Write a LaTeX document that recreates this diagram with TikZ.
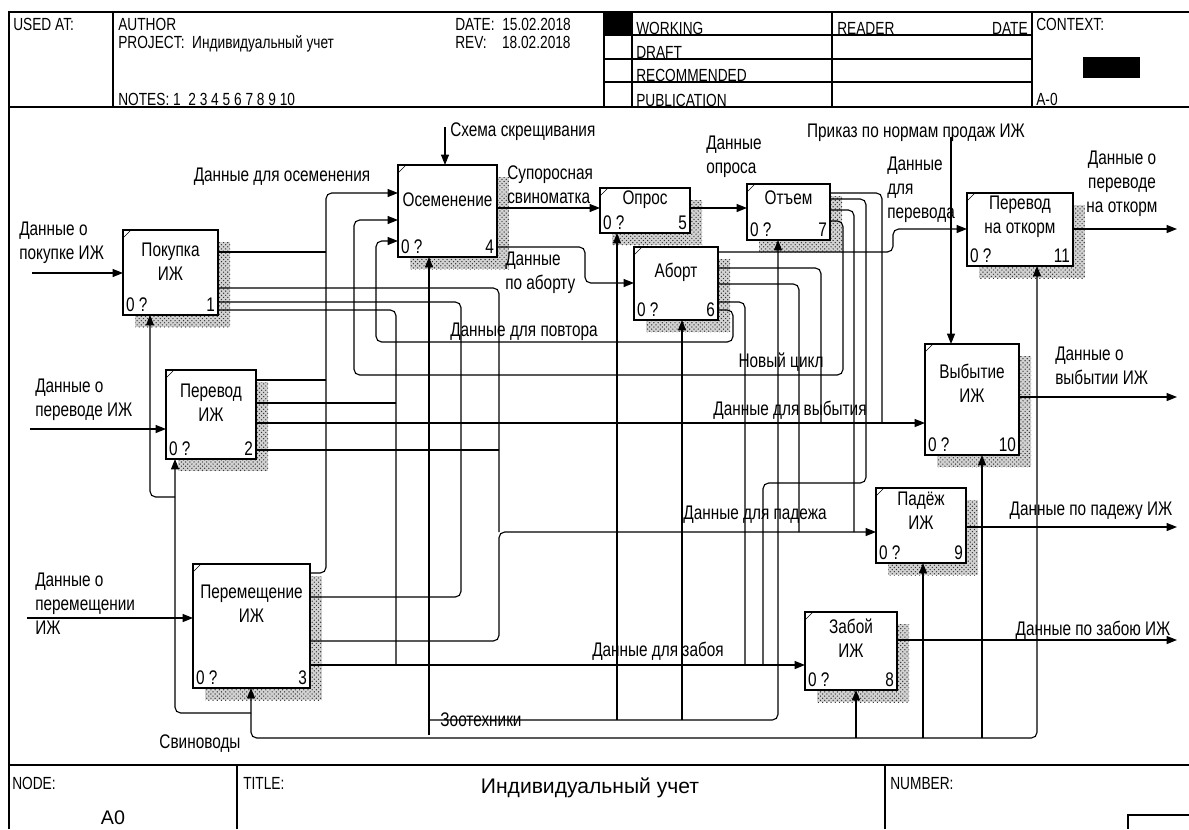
\documentclass[tikz,border=0pt]{standalone}
\usepackage{fontspec}
\setmainfont[FakeStretch=0.78]{Liberation Sans}
\newfontfamily\titlefont{Liberation Sans}
\usetikzlibrary{arrows.meta,patterns}
\pgfdeclarelayer{bg}
\pgfsetlayers{bg,main}

\tikzset{
  actbox/.style={draw, line width=1pt, fill=white, anchor=north west, inner sep=0pt, outer sep=0pt},
  boxlabel/.style={align=center, inner sep=0pt},
  arrowline/.style={line width=0.8pt, rounded corners=4pt, -{Triangle[length=2.6mm,width=2mm]}},
  arrowboth/.style={line width=0.8pt, rounded corners=4pt, {Triangle[length=2.6mm,width=2mm]}-{Triangle[length=2.6mm,width=2mm]}},
  busline/.style={line width=0.8pt, rounded corners=4pt},
  lbl/.style={inner sep=0pt},
  lblw/.style={inner sep=0pt, anchor=west, align=left},
  hdr/.style={inner sep=0pt, anchor=base west, font=\fontsize{12.5}{14}\selectfont},
}

% name, x1, y1, x2, y2, text, number, text y
\newcommand\idefbox[8]{%
  \begin{pgfonlayer}{bg}
    \fill[gray!35] (#2+12,#3+12) rectangle (#4+12,#5+12);
    \fill[pattern=crosshatch dots, pattern color=black!80] (#2+12,#3+12) rectangle (#4+12,#5+12);
  \end{pgfonlayer}
  \node[actbox, minimum width={(#4-#2)*0.025cm}, minimum height={(#5-#3)*0.025cm}] (#1) at (#2,#3) {};
  \draw (#1.north west) ++(0,8) -- ++(8,-8);
  \node[boxlabel] (#1-name) at ({(#2+#4)/2},#8) {#6};
  \node[anchor=south west, inner sep=2pt] (#1-zero) at (#1.south west) {0 ?};
  \node[anchor=south east, inner sep=2pt] (#1-num) at (#1.south east) {#7};
}

\begin{document}
\begin{tikzpicture}[x=0.025cm, y=-0.025cm, font=\fontsize{14}{17}\selectfont]
\useasboundingbox (0,0) rectangle (1189,829);

% frame and header
\draw[line width=1pt] (9,829) -- (9,12) -- (1189,12);
\draw[line width=1pt] (9,107) -- (1189,107);
\draw[line width=1pt] (9,765) -- (1189,765);
\draw[line width=0.8pt] (113,12) -- (113,107);
\draw[line width=0.8pt] (604,12) -- (604,107);
\draw[line width=0.8pt] (632,12) -- (632,107);
\draw[line width=0.8pt] (832,12) -- (832,107);
\draw[line width=0.8pt] (1032,12) -- (1032,107);
\foreach \y in {35,59,82}
  \draw[line width=0.8pt] (604,\y) -- (1032,\y);
\fill (604,12) rectangle (632,35);
\fill (1083,57) rectangle (1140,78);
\draw[line width=0.8pt] (237,765) -- (237,829);
\draw[line width=0.8pt] (885,765) -- (885,829);
\draw[line width=0.8pt] (1128,829) -- (1128,815) -- (1189,815);

\node[hdr] (usedat) at (13,30) {USED AT:};
\node[hdr] (author) at (118,30) {AUTHOR};
\node[hdr] (project) at (118,48) {PROJECT:\ \ Индивидуальный учет};
\node[hdr] (notes) at (118,105) {NOTES:\ 1\ \ 2 3 4 5 6 7 8 9 10};
\node[hdr] (date) at (455,30) {DATE:\ \ 15.02.2018};
\node[hdr] (rev) at (455,48) {REV:\ \ \ \ 18.02.2018};
\node[hdr] (working) at (636,34) {WORKING};
\node[hdr] (draft) at (636,58) {DRAFT};
\node[hdr] (recom) at (636,81) {RECOMMENDED};
\node[hdr] (public) at (636,106) {PUBLICATION};
\node[hdr] (reader) at (837,34) {READER};
\node[hdr, anchor=base east] (rdate) at (1028,34) {DATE};
\node[hdr] (context) at (1036,30) {CONTEXT:};
\node[hdr] (aznull) at (1036,105) {A-0};
\node[hdr] (nodelbl) at (12,789) {NODE:};
\node[lbl] (nodeval) at (113,818) {\titlefont\fontsize{14}{16}\selectfont A0};
\node[hdr] (titlelbl) at (243,789) {TITLE:};
\node[lbl] (titleval) at (590,788) {\titlefont\fontsize{15}{18}\selectfont Индивидуальный учет};
\node[hdr] (numberlbl) at (890,789) {NUMBER:};

% activity boxes
\idefbox{pok}{123}{230}{218}{315}{Покупка\\ИЖ}{1}{262}
\idefbox{per}{166}{370}{256}{459}{Перевод\\ИЖ}{2}{403}
\idefbox{perm}{193}{564}{310}{688}{Перемещение\\ИЖ}{3}{604}
\idefbox{osem}{398}{165}{497}{257}{Осеменение}{4}{200}
\idefbox{opr}{600}{188}{690}{233}{Опрос}{5}{200}
\idefbox{abort}{634}{247}{718}{320}{Аборт}{6}{272}
\idefbox{otem}{747}{184}{830}{240}{Отъем}{7}{198}
\idefbox{zab}{805}{612}{897}{690}{Забой\\ИЖ}{8}{638}
\idefbox{pad}{876}{488}{966}{563}{Падёж\\ИЖ}{9}{511}
\idefbox{vyb}{925}{344}{1019}{455}{Выбытие\\ИЖ}{10}{383}
\idefbox{otk}{967}{193}{1073}{266}{Перевод\\на откорм}{11}{217}

% boundary ends
\coordinate (inpok) at (32,273);
\coordinate (inper) at (30,429);
\coordinate (inperm) at (27,618);
\coordinate (inschema) at (445,127);
\coordinate (inprikaz) at (951,137);
\coordinate (outotk) at (1177,229);
\coordinate (outvyb) at (1177,397);
\coordinate (outpad) at (1177,527);
\coordinate (outzab) at (1177,640);
\coordinate (zoo) at (429,735);
\coordinate (svin) at (251,738);

% inputs, controls, outputs
\draw[arrowline] (inpok) -- (pok.west |- inpok);
\draw[arrowline] (inper) -- (per.west |- inper);
\draw[arrowline] (inperm) -- (perm.west |- inperm);
\draw[arrowline] (inschema) -- (osem.north -| inschema);
\draw[arrowline] (inprikaz) -- (vyb.north -| inprikaz);
\draw[arrowline] (otk.east |- outotk) -- (outotk);
\draw[arrowline] (vyb.east |- outvyb) -- (outvyb);
\draw[arrowline] (pad.east |- outpad) -- (outpad);
\draw[arrowline] (zab.east |- outzab) -- (outzab);

% data for insemination
\draw[arrowline] (perm.east |- 0,573) -- (326,573) -- (326,193) -- (osem.west |- 0,193);
\draw[busline] (pok.east |- 0,252) -- (326,252);
\draw[busline] (per.east |- 0,380) -- (326,380);
% new cycle, repeat
\draw[arrowline] (otem.east |- 0,221) -- (843,221) -- (843,375) -- (354,375) -- (354,220) -- (osem.west |- 0,220);
\draw[arrowline] (abort.east |- 0,310) -- (733,310) -- (733,342) -- (376,342) -- (376,241) -- (osem.west |- 0,241);
% chain of the cycle
\draw[arrowline] (osem.east |- 0,208) -- (opr.west |- 0,208);
\draw[arrowline] (osem.east |- 0,247) -- (585,247) -- (585,283) -- (abort.west |- 0,283);
\draw[arrowline] (opr.east |- 0,208) -- (otem.west |- 0,208);
\draw[arrowline] (abort.east |- 0,252) -- (893,252) -- (893,229) -- (otk.west |- 0,229);
% disposal
\draw[arrowline] (per.east |- 0,423) -- (vyb.west |- 0,423);
\draw[busline] (pok.east |- 0,302) -- (461,302) -- (461,423);
\draw[busline] (perm.east |- 0,597) -- (461,597) -- (461,423);
\draw[busline] (abort.east |- 0,268) -- (821,268) -- (821,423);
\draw[busline] (otem.east |- 0,193) -- (882,193) -- (882,423);
% death
\draw[arrowline] (perm.east |- 0,641) -- (499,641) -- (499,532) -- (pad.west |- 0,532);
\draw[busline] (pok.east |- 0,288) -- (499,288) -- (499,532);
\draw[busline] (per.east |- 0,450) -- (499,450);
\draw[busline] (abort.east |- 0,284) -- (799,284) -- (799,532);
\draw[busline] (otem.east |- 0,210) -- (854,210) -- (854,532);
% slaughter
\draw[arrowline] (perm.east |- 0,665) -- (zab.west |- 0,665);
\draw[busline] (pok.east |- 0,310) -- (396,310) -- (396,665);
\draw[busline] (per.east |- 0,403) -- (396,403);
\draw[busline] (abort.east |- 0,302) -- (745,302) -- (745,665);
\draw[busline] (otem.east |- 0,199) -- (866,199) -- (866,483) -- (763,483) -- (763,665);

% mechanisms
\draw[arrowline] (zoo) -- (osem.south -| zoo);
\draw[arrowline] (429,720) -- (778,720) -- (otem.south -| 778,0);
\draw[arrowline] (617,720) -- (opr.south -| 617,0);
\draw[arrowline] (682,720) -- (abort.south -| 682,0);
\draw[arrowboth] (perm.south -| svin) -- (svin) -- (1037,738) -- (otk.south -| 1037,0);
\draw[arrowline] (856,738) -- (zab.south -| 856,0);
\draw[arrowline] (923,738) -- (pad.south -| 923,0);
\draw[arrowline] (982,738) -- (vyb.south -| 982,0);
\draw[arrowline] (251,713) -- (175,713) -- (per.south -| 175,0);
\draw[arrowline] (175,497) -- (150,497) -- (pok.south -| 150,0);

% arrow labels
\node[lblw] (l-inpok) at (19,243) {Данные о\\покупке ИЖ};
\node[lblw] (l-inper) at (35,400) {Данные о\\переводе ИЖ};
\node[lblw] (l-inperm) at (35,604) {Данные о\\перемещении\\ИЖ};
\node[lbl] (l-osem) at (282,177) {Данные для осеменения};
\node[lblw] (l-schema) at (450,132) {Схема скрещивания};
\node[lblw] (l-supor) at (507,185) {Супоросная\\свиноматка};
\node[lblw] (l-abort) at (505,273) {Данные\\по аборту};
\node[lblw] (l-opros) at (706,157) {Данные\\опроса};
\node[lblw] (l-perevod) at (887,190) {Данные\\для\\перевода};
\node[lbl, align=center] (l-otk) at (1122,184) {Данные о\\переводе\\на откорм};
\node[lbl] (l-prikaz) at (916,133) {Приказ по нормам продаж ИЖ};
\node[lbl] (l-cycle) at (781,362) {Новый цикл};
\node[lbl] (l-repeat) at (524,332) {Данные для повтора};
\node[lbl] (l-vyb) at (790,410) {Данные для выбытия};
\node[lblw] (l-outvyb) at (1055,366) {Данные о\\выбытии ИЖ};
\node[lbl] (l-pad) at (755,515) {Данные для падежа};
\node[lbl] (l-outpad) at (1091,511) {Данные по падежу ИЖ};
\node[lbl] (l-zab) at (658,651) {Данные для забоя};
\node[lbl] (l-outzab) at (1093,630) {Данные по забою ИЖ};
\node[lbl] (l-zoo) at (481,720) {Зоотехники};
\node[lbl] (l-svin) at (200,744) {Свиноводы};
\end{tikzpicture}
\end{document}
